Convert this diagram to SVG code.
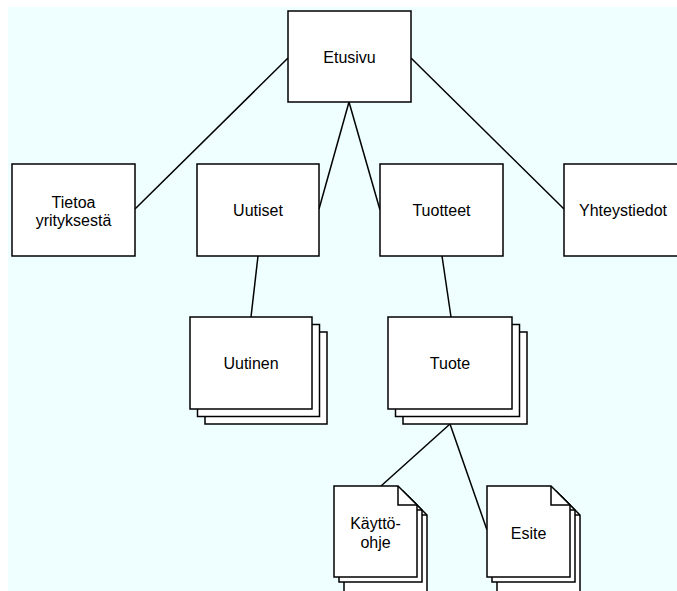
<svg xmlns="http://www.w3.org/2000/svg" width="677" height="591" viewBox="0 0 677 591">
<style>
.bg{fill:#effefe;}
.box{fill:#ffffff;stroke:#000000;stroke-width:1.5;}
.fold{fill:none;stroke:#000000;stroke-width:1.5;}
.conn line{stroke:#000000;stroke-width:1.5;}
text{font-family:"Liberation Sans",Arial,Helvetica,sans-serif;font-size:16px;fill:#000000;text-anchor:middle;}
</style>
<defs>
<g id="doc">
<path class="box" d="M0,0 H64 L83,19 V91 H0 Z"/>
<path class="fold" d="M64,0 V19 H83"/>
</g>
<g id="doclong">
<path class="box" d="M0,0 H64 L83,19 V100 H0 Z"/>
<path class="fold" d="M64,0 V19 H83"/>
</g>
</defs>
<rect class="bg" x="8" y="7" width="669" height="584"/>
<g id="connectors" class="conn">
<line x1="288" y1="58" x2="135" y2="209"/>
<line x1="349" y1="102" x2="319" y2="209"/>
<line x1="349" y1="102" x2="380" y2="210"/>
<line x1="411" y1="58" x2="564" y2="209"/>
<line x1="258" y1="256" x2="251" y2="317"/>
<line x1="442" y1="256" x2="451" y2="317"/>
<line x1="450" y1="424" x2="381" y2="486"/>
<line x1="450" y1="424" x2="487" y2="530"/>
</g>
<g id="etusivu">
<rect class="box" x="288" y="11" width="123" height="91"/>
<text x="349.5" y="63">Etusivu</text>
</g>
<g id="tietoa">
<rect class="box" x="12" y="164" width="123" height="92"/>
<text x="73.5" y="208">Tietoa</text>
<text x="73.5" y="226">yrityksestä</text>
</g>
<g id="uutiset">
<rect class="box" x="197" y="164" width="122" height="92"/>
<text x="258" y="216">Uutiset</text>
</g>
<g id="tuotteet">
<rect class="box" x="380" y="164" width="123" height="92"/>
<text x="441.5" y="216">Tuotteet</text>
</g>
<g id="yhteystiedot">
<rect class="box" x="564" y="164" width="123" height="92"/>
<text x="623" y="216">Yhteystiedot</text>
</g>
<g id="uutinen">
<rect class="box" x="205" y="332" width="122" height="92"/>
<rect class="box" x="197.5" y="324.5" width="122" height="92"/>
<rect class="box" x="190" y="317" width="122" height="92"/>
<text x="251" y="369">Uutinen</text>
</g>
<g id="tuote">
<rect class="box" x="403" y="332" width="124" height="92"/>
<rect class="box" x="395.5" y="324.5" width="124" height="92"/>
<rect class="box" x="388" y="317" width="124" height="92"/>
<text x="450" y="369">Tuote</text>
</g>
<g id="kayttoohje">
<use href="#doclong" x="344" y="496"/>
<use href="#doc" x="339" y="491"/>
<use href="#doc" x="334" y="486"/>
<text x="375.5" y="529">Käyttö-</text>
<text x="375.5" y="548">ohje</text>
</g>
<g id="esite">
<use href="#doclong" x="497" y="496"/>
<use href="#doc" x="492" y="491"/>
<use href="#doc" x="487" y="486"/>
<text x="528.5" y="539">Esite</text>
</g>
</svg>
